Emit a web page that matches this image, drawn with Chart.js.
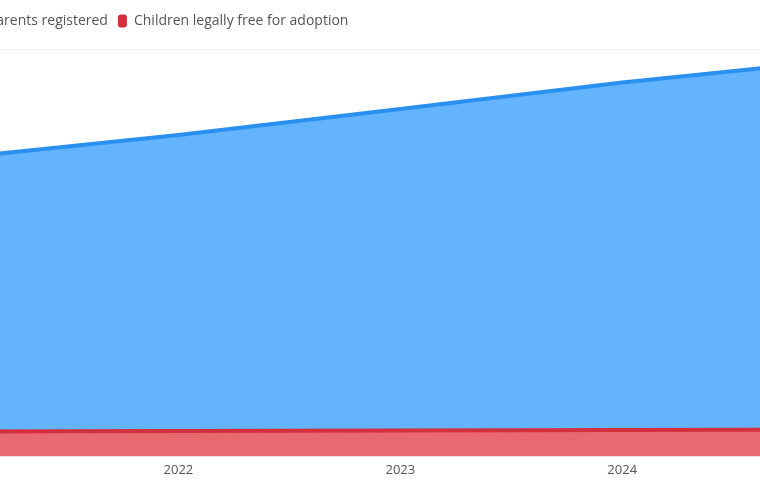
<!DOCTYPE html>
<html>
<head>
<meta charset="utf-8">
<script src="https://cdn.jsdelivr.net/npm/chart.js@4/dist/chart.umd.min.js"></script>
<style>
  html, body { margin: 0; padding: 0; background: #fff; overflow: hidden; }
  body { width: 760px; height: 490px; position: relative; }
  #wrap { position: absolute; left: -178px; top: 0; width: 1043px; height: 490px; }
</style>
</head>
<body>
<div id="wrap"><canvas id="adoptionChart"></canvas></div>
<script>
const years = ["2021", "2022", "2023", "2024", "2025"];
const parentsRegistered = [29300, 31550, 34100, 36700, 38950];
const childrenFree = [2450, 2500, 2550, 2600, 2650];
const yTicks = [0, 10000, 20000, 30000, 40000];

const FONT = "'Open Sans', sans-serif";

// push the plot down a bit below the legend
const legendGap = {
    id: "legendGap",
    beforeInit(chart) {
        const fit = chart.legend.fit;
        chart.legend.fit = function () {
            fit.bind(chart.legend)();
            this.height += 11;
        };
    },
};

const lineChart = () => {
    const data = {
        labels: years,
        datasets: [
            {
                label: "Prospective adoptive parents registered",
                data: parentsRegistered,
                borderColor: "#2a90f0",
                backgroundColor: "rgba(47, 154, 255, 0.75)",
                borderWidth: 4,
                pointRadius: 0,
                tension: 0,
                fill: "+1",
            },
            {
                label: "Children legally free for adoption",
                data: childrenFree,
                borderColor: "#d42f3c",
                backgroundColor: "rgba(224, 55, 63, 0.75)",
                borderWidth: 4,
                pointRadius: 0,
                tension: 0,
                fill: "origin",
            },
        ],
    };

    const config = {
        type: "line",
        data: data,
        plugins: [legendGap],
        options: {
            responsive: true,
            maintainAspectRatio: false,
            animation: false,
            layout: { padding: { top: 4, bottom: 6, left: 0, right: 0 } },
            plugins: {
                filler: { drawTime: "beforeDatasetsDraw" },
                legend: {
                    align: "start",
                    labels: {
                        font: { family: FONT, size: 14 },
                        color: "#555",
                        boxWidth: 9,
                        boxHeight: 13,
                        useBorderRadius: true,
                        borderRadius: 3,
                        padding: 10,
                        generateLabels: (chart) => {
                            const items = Chart.defaults.plugins.legend.labels.generateLabels(chart);
                            items.forEach((it) => {
                                it.fillStyle = chart.data.datasets[it.datasetIndex].borderColor;
                                it.lineWidth = 0;
                            });
                            return items;
                        },
                    },
                },
                tooltip: { enabled: false },
            },
            scales: {
                x: {
                    grid: { display: false, drawTicks: false },
                    border: { display: false },
                    ticks: { font: { family: FONT, size: 13 }, color: "#555", padding: 6 },
                },
                y: {
                    min: yTicks[0],
                    max: yTicks[yTicks.length - 1],
                    afterBuildTicks: (scale) => { scale.ticks = yTicks.map(v => ({ value: v })); },
                    afterFit: (scale) => { scale.width = 134.5; },
                    grid: { color: "rgba(0, 0, 0, 0.06)", drawTicks: false },
                    border: { display: false },
                    ticks: { font: { family: FONT, size: 13 }, color: "#666", padding: 8 },
                },
            },
        },
    };

    var ctx = document.getElementById("adoptionChart").getContext("2d");
    new Chart(ctx, config);
}

lineChart();
</script>
</body>
</html>
